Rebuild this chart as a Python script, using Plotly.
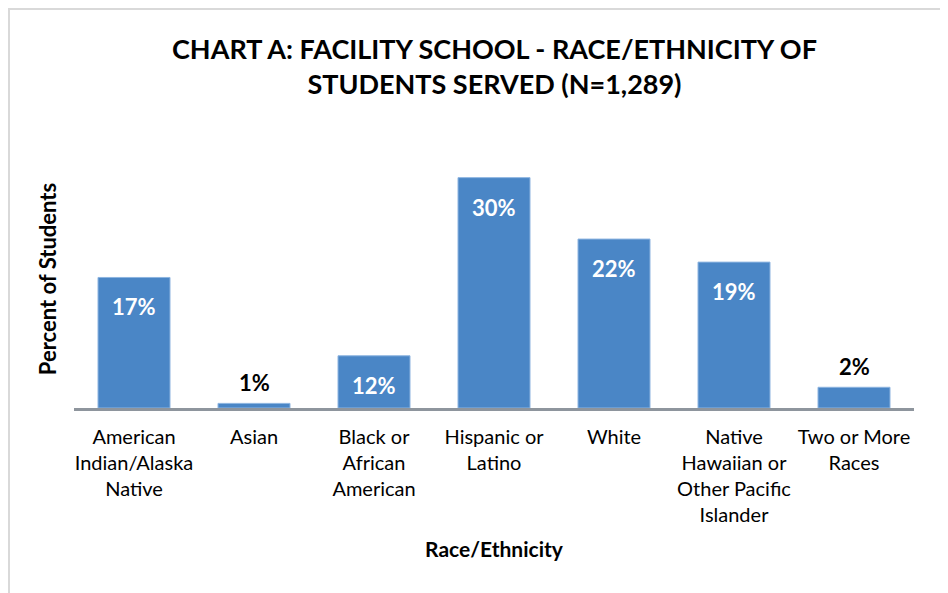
import plotly.graph_objects as go

categories = ["American<br>Indian/Alaska<br>Native", "Asian", "Black or<br>African<br>American",
              "Hispanic or<br>Latino", "White", "Native<br>Hawaiian or<br>Other Pacific<br>Islander",
              "Two or More<br>Races"]
bar_heights = [17, 0.6, 6.8, 30, 22, 19, 2.7]
value_labels = ["17%", "1%", "12%", "30%", "22%", "19%", "2%"]
label_inside = [True, False, True, True, True, True, False]

FONT = "Lato"
W, H = 948, 593
L, R, T, B = 66, 42, 142, 193
plot_w = W - L - R
plot_h = H - T - B
ymax = 33.6

fig = go.Figure()
fig.add_trace(go.Bar(
    x=categories, y=bar_heights,
    marker=dict(color="#4A86C6", line=dict(color="#8DB4E0", width=1)),
    hoverinfo="skip",
))

annotations = []
for c, h, lab, inside in zip(categories, bar_heights, value_labels, label_inside):
    if inside:
        annotations.append(dict(x=c, y=h, text="<b>" + lab + "</b>", showarrow=False,
                                yanchor="top", yshift=-14,
                                font=dict(family=FONT, size=22, color="white")))
    else:
        annotations.append(dict(x=c, y=h, text="<b>" + lab + "</b>", showarrow=False,
                                yanchor="bottom", yshift=5,
                                font=dict(family=FONT, size=22, color="black")))

annotations.append(dict(xref="paper", yref="paper", x=0.5, y=(H - B - 57.5) / plot_h + 0.0,
                        text="<b>CHART A: FACILITY SCHOOL - RACE/ETHNICITY OF<br>STUDENTS SERVED (N=1,289)</b>",
                        showarrow=False, xanchor="center", yanchor="middle",
                        font=dict(family=FONT, size=27, color="black")))

fig.update_layout(
    width=W, height=H,
    margin=dict(l=L, r=R, t=T, b=B, autoexpand=False),
    paper_bgcolor="white", plot_bgcolor="white",
    bargap=0.4,
    showlegend=False,
    font=dict(family=FONT, color="black"),
    annotations=annotations,
    shapes=[dict(type="rect", xref="paper", yref="paper",
                 x0=(1 - L) / plot_w, x1=(936 - L) / plot_w,
                 y0=-1.0, y1=(H - B - 1) / plot_h,
                 line=dict(color="#D9D9D9", width=2), fillcolor="rgba(0,0,0,0)", layer="below")],
)
fig.update_xaxes(
    showline=True, linecolor="#8E959D", linewidth=3,
    ticks="", tickfont=dict(family=FONT, size=20, color="black"), ticklabelstandoff=9,
    title=dict(text="<b>Race/Ethnicity</b>", font=dict(family=FONT, size=21, color="black"), standoff=18),
    showgrid=False, fixedrange=True,
)
fig.update_yaxes(
    range=[0, ymax], showline=False, showticklabels=False, ticks="", showgrid=False, zeroline=False,
    title=dict(text="<b>Percent of Students</b>", font=dict(family=FONT, size=22, color="black"), standoff=10),
)

fig.write_html("out.html")
